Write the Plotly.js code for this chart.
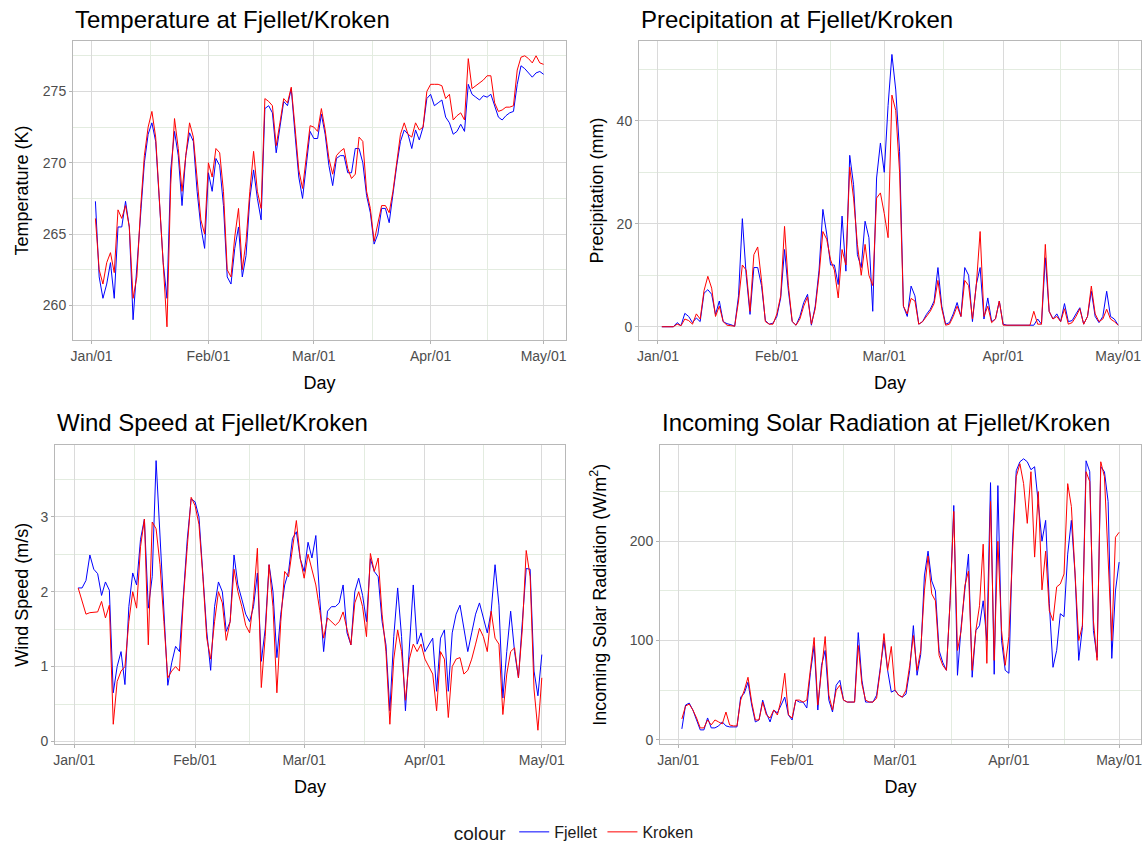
<!DOCTYPE html>
<html>
<head>
<meta charset="utf-8">
<script src="https://cdn.plot.ly/plotly-3.0.1.min.js"></script>
<style>
html,body{margin:0;padding:0;background:#fff;}
#chart{width:1146px;height:850px;}
</style>
</head>
<body>
<div id="chart"></div>
<script>
// ---- data: daily values, 2019-01-02 .. 2019-05-01 ----
const startDate = '2019-01-02';
const nDays = 120;

const tempFjellet = [267.3,262.0,260.5,261.5,263.0,260.5,265.5,265.5,267.3,265.5,259.0,262.5,266.5,270.0,272.0,272.8,271.5,267.5,263.0,260.5,
269.5,272.2,270.5,267.0,270.5,272.1,271.5,268.0,265.5,264.0,269.3,268.0,270.3,269.8,267.0,262.0,261.5,264.0,265.5,262.0,
263.5,267.5,269.5,267.5,266.0,273.8,274.0,273.5,270.7,272.5,274.3,274.0,275.2,272.0,269.0,267.5,270.0,272.2,271.7,271.7,
273.4,272.0,269.8,268.4,270.3,270.5,270.5,269.3,269.3,271.0,271.0,270.0,267.7,266.5,264.3,265.0,266.8,266.8,265.8,268.0,
269.8,271.5,272.3,272.0,271.0,272.3,271.6,272.5,274.5,274.8,274.0,274.2,274.4,273.2,272.8,272.0,272.2,272.7,272.2,275.5,
274.8,274.6,274.4,274.7,274.6,274.8,274.0,273.2,273.0,273.3,273.5,273.6,275.5,276.8,276.6,276.3,276.0,276.3,276.4,276.2];
const tempKroken = [266.1,262.5,261.5,263.0,263.7,262.3,266.7,266.1,267.0,265.5,260.5,262.0,266.8,270.5,272.5,273.6,271.8,267.5,262.5,258.5,
268.5,273.1,271.0,268.0,270.5,272.8,271.8,269.0,266.0,265.0,270.0,269.0,271.0,270.7,268.0,262.5,262.0,264.8,266.8,262.5,
264.5,268.0,270.8,268.0,266.8,274.5,274.3,274.0,271.2,272.8,274.5,274.2,275.3,272.5,269.5,268.2,270.3,272.6,272.5,272.2,
273.8,272.3,270.3,269.2,270.5,270.8,271.0,269.6,268.9,269.2,271.8,271.5,268.0,266.8,264.5,265.8,267.0,267.0,266.5,268.0,
270.0,272.0,272.8,272.0,271.8,272.8,272.3,272.5,275.0,275.5,275.5,275.5,275.4,274.5,274.8,273.0,273.3,273.5,273.0,277.3,
275.2,275.4,275.6,275.8,276.1,276.1,274.2,273.6,273.7,273.9,273.9,274.0,276.5,277.4,277.5,277.3,277.0,277.5,277.0,276.9];

const precFjellet = [0,0,0,0,0.8,0.2,2.6,2.0,0.8,1.7,1.0,6.5,7.2,6.3,2.4,5.0,1.0,0.6,0.4,0.1,
6.0,21.0,10.0,2.4,11.5,11.5,8.0,1.2,0.5,0.7,2.0,5.6,15.0,7.0,1.0,0.3,2.0,4.7,6.3,0.3,
4.0,11.0,22.8,18.0,12.0,12.0,8.2,21.5,10.8,33.3,27.6,14.0,11.5,20.5,17.3,3.0,28.9,35.7,30.0,43.0,
52.9,46.0,34.0,4.0,2.0,7.9,6.0,0.5,1.0,2.4,3.4,5.0,11.5,4.0,0.5,0.8,2.5,4.7,2.0,11.5,
10.0,1.0,8.2,11.5,1.5,5.6,1.0,1.5,5.0,0.5,0.3,0.3,0.3,0.3,0.3,0.3,0.3,0.3,1.5,0.5,
13.4,3.0,1.5,2.5,1.0,4.5,1.0,1.2,2.5,3.7,0.5,2.0,6.9,2.0,0.8,2.0,6.9,2.0,1.5,0.3];
const precKroken = [0,0,0,0,0.5,0.2,1.5,1.2,0.5,2.5,1.5,7.0,9.8,7.5,2.0,4.0,1.0,0.3,0.2,0.1,
5.0,12.0,11.0,3.0,14.0,15.5,9.0,1.0,0.5,0.5,2.5,6.0,19.5,8.0,1.0,0.3,1.5,4.0,5.8,0.5,
3.5,10.0,18.5,17.0,13.0,11.0,5.6,15.0,12.0,31.0,25.0,16.0,10.0,16.0,10.0,8.0,25.0,26.0,22.0,17.3,
45.0,42.0,30.0,4.0,2.5,5.5,5.0,0.5,1.0,2.0,3.0,4.5,9.0,3.5,0.3,0.5,2.0,4.0,2.0,9.0,
8.0,1.5,8.0,18.5,2.0,4.0,0.8,1.5,5.0,0.3,0.3,0.3,0.3,0.3,0.3,0.3,0.3,3.0,0.5,0.5,
16.0,3.0,1.5,2.0,1.0,3.5,0.5,0.8,2.0,3.5,0.5,2.0,7.9,2.5,1.0,1.5,3.4,1.5,1.0,0.3];

const windFjellet = [2.05,2.05,2.15,2.49,2.30,2.24,1.95,2.13,2.02,0.65,1.00,1.20,0.76,1.80,2.25,2.09,2.70,2.97,1.78,2.20,
3.75,2.80,1.85,0.75,1.05,1.27,1.20,2.00,2.70,3.24,3.20,3.00,2.30,1.47,0.95,1.80,2.13,2.00,1.47,1.60,
2.49,2.09,1.90,1.70,1.60,1.80,2.25,1.07,1.50,2.36,2.00,1.12,1.70,2.09,2.27,2.71,2.80,2.44,2.27,2.66,
2.45,2.75,1.91,1.20,1.74,1.80,1.80,1.85,2.09,1.45,1.29,2.00,2.18,1.95,1.60,2.44,2.27,2.20,1.60,1.29,
0.41,1.40,2.05,1.40,0.41,1.20,2.09,1.30,1.45,1.20,1.30,1.38,0.67,1.38,1.49,0.67,1.45,1.70,1.82,1.50,
1.20,1.45,1.70,1.85,1.65,1.45,1.74,2.36,1.82,0.58,1.20,1.74,1.20,0.85,1.60,2.31,2.30,0.94,0.61,1.16];
const windKroken = [2.05,1.87,1.70,1.72,1.73,1.73,1.87,1.65,1.82,0.23,0.80,0.94,1.00,1.60,2.00,1.78,2.60,2.97,1.29,2.93,
2.84,2.36,1.60,0.85,0.94,1.00,0.94,1.90,2.60,3.26,3.15,2.90,2.20,1.38,1.10,1.60,2.00,1.85,1.35,1.60,
2.30,2.00,1.80,1.55,1.45,1.90,2.58,0.72,1.40,2.36,1.80,0.65,1.60,2.27,2.20,2.60,2.95,2.44,2.18,2.50,
2.30,2.09,1.75,1.38,1.65,1.60,1.55,1.60,1.73,1.50,1.29,1.85,2.00,1.80,1.40,2.51,2.27,2.45,1.70,1.20,
0.23,1.10,1.49,1.20,0.55,1.10,1.30,1.20,1.30,1.10,1.00,0.90,0.41,1.20,1.10,0.32,1.00,1.10,1.12,0.90,
0.95,1.10,1.30,1.51,1.40,1.20,1.74,1.38,1.30,0.36,0.90,1.20,1.25,0.85,1.50,2.55,2.20,0.70,0.15,0.85];

const solarFjellet = [11,35,37,30,20,10,10,22,12,12,14,18,14,13,13,13,43,47,58,35,
18,20,40,27,18,30,27,36,43,25,20,40,38,38,32,68,95,30,75,90,
40,28,55,60,40,38,38,38,108,60,38,38,38,45,70,100,70,48,50,45,
43,46,70,115,65,86,165,190,160,150,90,78,70,140,236,65,114,150,187,63,
110,115,140,100,259,66,256,100,70,67,200,271,280,283,280,272,275,238,200,221,
137,73,90,127,124,187,221,167,80,113,281,270,110,83,275,270,240,82,150,179];
const solarKroken = [21,34,36,30,22,12,12,20,15,20,18,16,28,15,14,14,40,50,63,38,
20,20,38,25,22,30,25,40,67,25,22,40,40,38,40,70,103,35,70,104,
45,30,50,55,40,38,38,38,95,56,40,38,38,42,70,107,70,94,50,45,
43,50,75,105,70,90,150,185,147,140,85,75,70,140,230,90,110,155,170,70,
110,135,197,77,240,80,200,110,75,104,190,265,278,258,218,270,184,250,151,190,
130,120,154,157,167,258,235,167,100,115,270,260,120,80,280,265,184,100,204,209];

const seriesNames = ['Fjellet', 'Kroken'];
const seriesColors = ['#0000FF', '#FF0000'];
const tickDates = ['2019-01-01','2019-02-01','2019-03-01','2019-04-01','2019-05-01'];
const tickLabels = ['Jan/01','Feb/01','Mar/01','Apr/01','May/01'];
const minorDates = ['2019-01-16 12:00','2019-02-15','2019-03-16 12:00','2019-04-16'];
const panelTitles = ['Temperature at Fjellet/Kroken','Precipitation at Fjellet/Kroken',
  'Wind Speed at Fjellet/Kroken','Incoming Solar Radiation at Fjellet/Kroken'];
const yTitles = ['Temperature (K)','Precipitation (mm)','Wind Speed (m/s)','Incoming Solar Radiation (W/m<sup>2</sup>)'];

// ---- build ----
const dates = [];
{
  const d0 = new Date(startDate + 'T00:00:00Z');
  for (let i = 0; i < nDays; i++) {
    const d = new Date(d0.getTime() + i * 86400000);
    dates.push(d.toISOString().slice(0, 10));
  }
}

const W = 1146, H = 850;
const px = (a, b) => [a / W, b / W];
const py = (top, bottom) => [1 - bottom / H, 1 - top / H];

const panels = [
  {data: [tempFjellet, tempKroken], xd: px(73, 566), yd: py(41, 342), yr: [257.55, 278.55],
   major: [260, 265, 270, 275], minor: [257.5, 262.5, 267.5, 272.5, 277.5], ys: 9},
  {data: [precFjellet, precKroken], xd: px(639, 1141), yd: py(41, 342), yr: [-2.65, 55.55],
   major: [0, 20, 40], minor: [10, 30, 50], ys: 8},
  {data: [windFjellet, windKroken], xd: px(55, 565), yd: py(447, 748), yr: [-0.04, 3.96],
   major: [0, 1, 2, 3], minor: [0.5, 1.5, 2.5, 3.5], ys: 7},
  {data: [solarFjellet, solarKroken], xd: px(660, 1141), yd: py(447, 748), yr: [-4.7, 297],
   major: [0, 100, 200], minor: [50, 150, 250], ys: 18}
];

const FONT = 'Liberation Sans, Arial, sans-serif';
const traces = [];
const layout = {
  width: W, height: H,
  margin: {l: 0, r: 0, t: 0, b: 0},
  paper_bgcolor: '#ffffff', plot_bgcolor: '#ffffff',
  font: {family: FONT, color: '#000000'},
  showlegend: true,
  legend: {
    orientation: 'h', x: 0.502, xanchor: 'center', y: 0.016, yanchor: 'middle',
    title: {text: 'colour', font: {size: 19, color: '#1a1a1a'}, side: 'left'},
    font: {size: 16, color: '#1a1a1a'}, itemwidth: 30
  },
  annotations: []
};

panels.forEach((p, k) => {
  const xa = 'xaxis' + (k === 0 ? '' : (k + 1));
  const ya = 'yaxis' + (k === 0 ? '' : (k + 1));
  const xr = 'x' + (k === 0 ? '' : (k + 1));
  const yr = 'y' + (k === 0 ? '' : (k + 1));
  p.data.forEach((vals, s) => {
    traces.push({
      type: 'scatter', mode: 'lines', x: dates, y: vals,
      name: seriesNames[s], legendgroup: seriesNames[s], showlegend: k === 0,
      line: {color: seriesColors[s], width: 1},
      xaxis: xr, yaxis: yr, hoverinfo: 'x+y+name'
    });
  });
  layout[xa] = {
    domain: p.xd, anchor: yr, type: 'date',
    range: ['2018-12-27 01:12', '2019-05-06 22:48'],
    tickmode: 'array', tickvals: tickDates, ticktext: tickLabels,
    ticks: 'outside', ticklen: 3, tickcolor: '#b3b3b3',
    tickfont: {size: 14, color: '#4d4d4d'},
    showgrid: true, gridcolor: '#dadada', gridwidth: 1,
    minor: {tickmode: 'array', tickvals: minorDates, showgrid: true, gridcolor: '#e3ece0', gridwidth: 1, ticks: ''},
    showline: true, mirror: true, linecolor: '#b8b8b8', linewidth: 1,
    zeroline: false,
    title: {text: 'Day', font: {size: 18, color: '#000000'}, standoff: 13}
  };
  layout[ya] = {
    domain: p.yd, anchor: xr, range: p.yr,
    tickmode: 'array', tickvals: p.major,
    ticks: 'outside', ticklen: 3, tickcolor: '#b3b3b3',
    tickfont: {size: 14, color: '#4d4d4d'},
    showgrid: true, gridcolor: '#dadada', gridwidth: 1,
    minor: {tickmode: 'array', tickvals: p.minor, showgrid: true, gridcolor: '#e3ece0', gridwidth: 1, ticks: ''},
    showline: true, mirror: true, linecolor: '#b8b8b8', linewidth: 1,
    zeroline: false,
    title: {text: yTitles[k], font: {size: 18, color: '#000000'}, standoff: p.ys}
  };
  layout.annotations.push({
    text: panelTitles[k], xref: 'paper', yref: 'paper',
    x: p.xd[0], xanchor: 'left',
    y: k < 2 ? 1 - 20 / H : 1 - 424 / H, yanchor: 'middle',
    showarrow: false, font: {size: 24, color: '#000000'}
  });
});

Plotly.newPlot('chart', traces, layout, {displayModeBar: false, staticPlot: false});
</script>
</body>
</html>
